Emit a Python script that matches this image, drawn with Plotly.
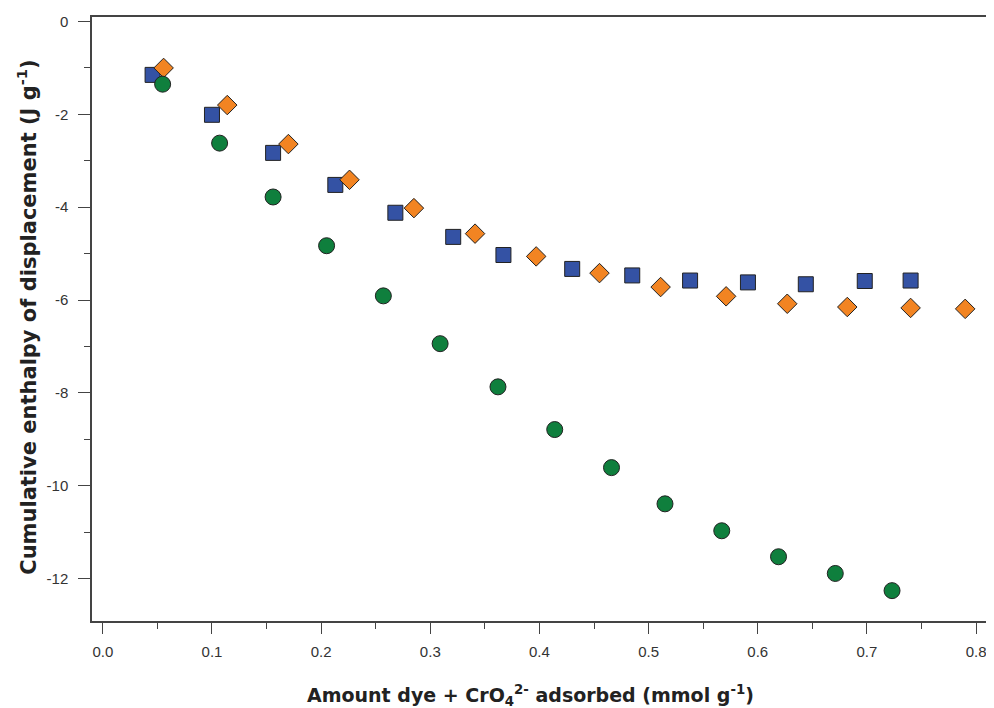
import plotly.graph_objects as go

# Blue squares
sq_x = [0.0456, 0.100, 0.156, 0.213, 0.268, 0.321, 0.367, 0.430, 0.485, 0.538, 0.591, 0.644, 0.698, 0.740]
sq_y = [-1.15, -2.01, -2.83, -3.52, -4.12, -4.64, -5.03, -5.33, -5.47, -5.58, -5.62, -5.66, -5.59, -5.58]

# Orange diamonds
di_x = [0.0557, 0.114, 0.170, 0.226, 0.285, 0.341, 0.397, 0.455, 0.511, 0.571, 0.627, 0.682, 0.740, 0.790]
di_y = [-1.00, -1.80, -2.64, -3.41, -4.02, -4.57, -5.06, -5.42, -5.72, -5.92, -6.08, -6.15, -6.17, -6.19]

# Green circles
ci_x = [0.0548, 0.107, 0.156, 0.205, 0.257, 0.309, 0.362, 0.414, 0.466, 0.515, 0.567, 0.619, 0.671, 0.723]
ci_y = [-1.35, -2.62, -3.78, -4.83, -5.91, -6.94, -7.87, -8.79, -9.61, -10.39, -10.97, -11.53, -11.89, -12.26]

x_ticks = [0.0, 0.1, 0.2, 0.3, 0.4, 0.5, 0.6, 0.7, 0.8]
x_labels = ["0.0", "0.1", "0.2", "0.3", "0.4", "0.5", "0.6", "0.7", "0.8"]
y_ticks = [0, -2, -4, -6, -8, -10, -12]
y_labels = ["0", "-2", "-4", "-6", "-8", "-10", "-12"]

outline = dict(color="#222222", width=1)

fig = go.Figure()
fig.add_trace(go.Scatter(x=sq_x, y=sq_y, mode="markers",
                         marker=dict(symbol="square", size=15, color="#3452A4", line=outline)))
fig.add_trace(go.Scatter(x=di_x, y=di_y, mode="markers",
                         marker=dict(symbol="diamond", size=15, color="#F28422", line=outline)))
fig.add_trace(go.Scatter(x=ci_x, y=ci_y, mode="markers",
                         marker=dict(symbol="circle", size=16, color="#0F7F3D", line=outline)))

tickfont = dict(family="Liberation Sans, Arial, sans-serif", size=15, color="#333333")

# page has an 8px body margin: figure is drawn at (8, 8)
W, H = 986, 700
L, T, R, B = 84, 9, 0, 86.5
pw, ph = W - L - R, H - T - B

fig.update_layout(
    width=W, height=H,
    margin=dict(l=L, r=R, t=T, b=B, pad=0),
    paper_bgcolor="white", plot_bgcolor="white",
    showlegend=False,
    xaxis=dict(range=[-0.0099, 0.8164], tickvals=x_ticks, ticktext=x_labels,
               ticks="outside", ticklen=11, tickwidth=1, tickcolor="#444444",
               showline=True, linecolor="#444444", linewidth=1.5, mirror=True,
               showgrid=False, zeroline=False, tickfont=tickfont,
               ticklabelstandoff=5,
               minor=dict(dtick=0.05, tick0=0, ticks="outside", ticklen=6, tickcolor="#444444")),
    yaxis=dict(range=[-12.914, 0.097], tickvals=y_ticks, ticktext=y_labels,
               ticks="outside", ticklen=12, tickwidth=1, tickcolor="#444444",
               showline=True, linecolor="#444444", linewidth=1.5,
               showgrid=False, zeroline=False, tickfont=tickfont,
               ticklabelstandoff=7,
               minor=dict(dtick=1, tick0=0, ticks="outside", ticklen=6, tickcolor="#444444")),
    annotations=[
        dict(text="<b>Amount dye + CrO<sub>4</sub><sup>2-</sup> adsorbed (mmol g<sup>-1</sup>)</b>",
             xref="paper", yref="paper", x=(530 - 8 - L) / pw, y=-(688 - 613.5) / ph,
             xanchor="center", yanchor="middle", showarrow=False,
             font=dict(family="DejaVu Sans, Verdana, sans-serif", size=19, color="#222222")),
        dict(text="<b>Cumulative enthalpy of displacement (J g<sup>-1</sup>)</b>",
             xref="paper", yref="paper", x=-(L - 19) / pw, y=(613.5 - 310) / ph,
             xanchor="center", yanchor="middle", showarrow=False, textangle=-90,
             font=dict(family="DejaVu Sans, Verdana, sans-serif", size=21, color="#222222")),
    ],
)

fig.write_html("out.html")
